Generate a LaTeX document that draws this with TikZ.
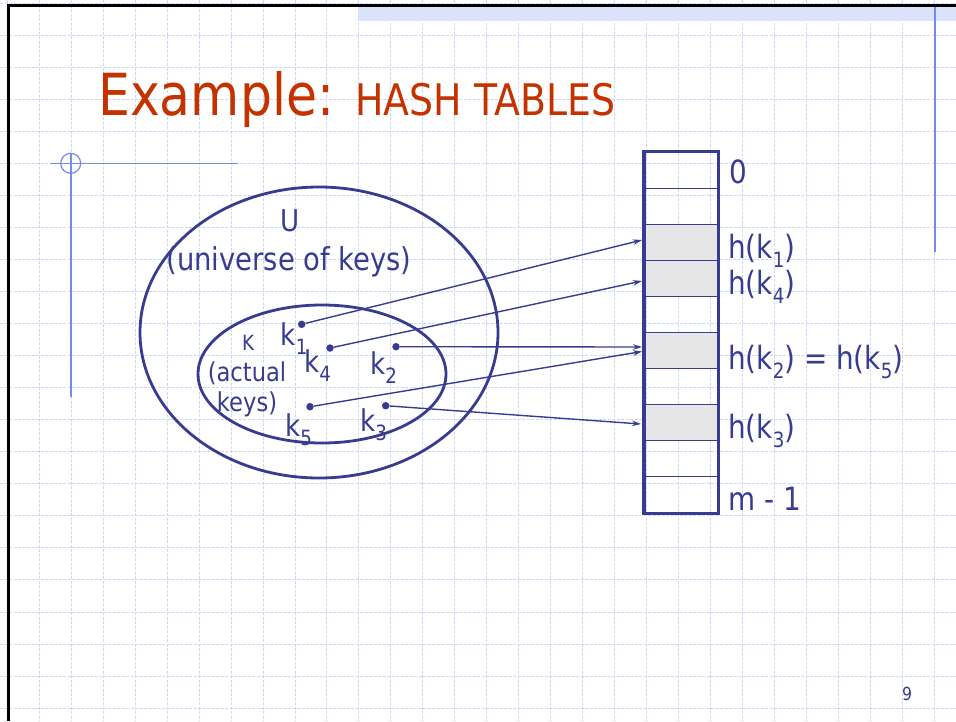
\documentclass[tikz,border=0pt]{standalone}
\usepackage{fontspec}
\setmainfont[FakeStretch=0.87]{DejaVu Sans}
\usetikzlibrary{arrows.meta,calc}
\definecolor{ink}{RGB}{55,60,145}
\definecolor{titlered}{RGB}{196,50,0}
\definecolor{gridblue}{RGB}{205,215,248}
\definecolor{decoblue}{RGB}{115,140,240}
\definecolor{bandblue}{RGB}{218,226,252}
\definecolor{cellgray}{RGB}{230,230,230}
\newcommand{\ks}[1]{\raisebox{-0.3em}{\fontsize{21}{21}\selectfont #1}}
\begin{document}
\begin{tikzpicture}[x=1pt,y=-1pt,
  gridline/.style={gridblue, line width=0.8pt, dash pattern=on 3pt off 1.5pt},
  txt/.style={anchor=base west, inner sep=0pt, text=ink},
  ctxt/.style={anchor=base, inner sep=0pt, text=ink},
  big/.style={font=\fontsize{30}{30}\selectfont},
  tab/.style={font=\fontsize{32}{32}\selectfont},
  dot/.style={circle, fill=ink, inner sep=0pt, minimum size=7.5pt},
  arr/.style={ink, line width=1.4pt, -{Stealth[length=9pt,width=5.5pt]}},
  cell/.style={draw=ink, line width=1.6pt, minimum width=73pt, minimum height=36pt, inner sep=0pt, anchor=north west},
  full/.style={cell, fill=cellgray}]
\useasboundingbox (0,0) rectangle (956,721);
\fill[white] (0,0) rectangle (956,721);
% background grid
\foreach \i in {0,...,29} \draw[gridline] ({7.35+31.95*\i},0) -- ++(0,721);
\foreach \j in {0,...,22} \draw[gridline] (0,{2.95+32.05*\j}) -- ++(956,0);
% top band and frame
\fill[bandblue] (358,7) rectangle (956,21);
\draw[black, line width=3.5pt] (8.5,721) -- (8.5,5.5) -- (956,5.5);
\draw[decoblue, line width=2.2pt] (935,7) -- (935,252);
\draw[decoblue, line width=1.2pt] (50,163.3) -- (238,163.3);
\draw[decoblue, line width=1.2pt] (70.7,163.3) circle [radius=10pt];
\draw[decoblue, line width=2.2pt] (70.7,153) -- (70.7,397);
% title
\node[anchor=base west, inner sep=0pt, text=titlered, font=\fontsize{58}{58}\selectfont] (title) at (98,115) {Example:};
\node[anchor=base west, inner sep=0pt, text=titlered, font=\fontsize{43.5}{43.5}\selectfont] (subtitle) at (355,115) {HASH TABLES};
% ellipses
\draw[ink, line width=2.8pt] (319,332.5) ellipse [x radius=179pt, y radius=145.5pt];
\draw[ink, line width=2.8pt] (322,374) ellipse [x radius=124pt, y radius=69pt];
\node[ctxt, big] (U) at (290,231.5) {U};
\node[ctxt, font=\fontsize{31.5}{31.5}\selectfont] (univ) at (289,270) {(universe of keys)};
\node[ctxt, font=\fontsize{21}{21}\selectfont] (K) at (248,350) {K};
\node[ctxt, font=\fontsize{26}{26}\selectfont] (actual) at (247,381.5) {(actual};
\node[ctxt, font=\fontsize{26}{26}\selectfont] (keys) at (247,411.5) {keys)};
% keys
\node[dot] (k1) at (301.7,324.3) {};
\node[dot] (k4) at (330,348) {};
\node[dot] (k2) at (396,346.7) {};
\node[dot] (k5) at (310,406.7) {};
\node[dot] (k3) at (385.7,405.7) {};
\node[txt, big] (lk1) at (280.5,345) {k\ks{1}};
\node[txt, big] (lk4) at (304,372.5) {k\ks{4}};
\node[txt, big] (lk2) at (370,374) {k\ks{2}};
\node[txt, big] (lk5) at (285,436.5) {k\ks{5}};
\node[txt, big] (lk3) at (360,431.5) {k\ks{3}};
% table
\node[cell] (c0) at (644,151.7) {};
\node[cell] (c1) at (644,187.7) {};
\node[full] (c2) at (644,223.7) {};
\node[full] (c3) at (644,259.7) {};
\node[cell] (c4) at (644,295.7) {};
\node[full] (c5) at (644,331.7) {};
\node[cell] (c6) at (644,367.7) {};
\node[full] (c7) at (644,403.7) {};
\node[cell] (c8) at (644,439.7) {};
\node[cell] (c9) at (644,475.7) {};
\draw[ink, line width=3.5pt] (c0.north west) rectangle (c9.south east);
% table labels
\node[txt, tab] (l0) at (729,183.3) {0};
\node[txt, tab] (lh1) at (728,258) {h(k\ks{1})};
\node[txt, tab] (lh4) at (728,294) {h(k\ks{4})};
\node[txt, tab] (lh25) at (728,369) {h(k\ks{2}) = h(k\ks{5})};
\node[txt, tab] (lh3) at (728,438) {h(k\ks{3})};
\node[txt, tab] (lm) at (728,510) {m - 1};
% arrow targets
\coordinate (t1) at (642,240);
\coordinate (t4) at (642,281);
\coordinate (t2) at (642,347);
\coordinate (t5) at (642,351.5);
\coordinate (t3) at (641,424);
\draw[arr] (k1) -- (t1);
\draw[arr] (k4) -- (t4);
\draw[arr] (k2) -- (t2);
\draw[arr] (k5) -- (t5);
\draw[arr] (k3) -- (t3);
% page number
\node[txt, font=\fontsize{18}{18}\selectfont] (page) at (902,700.5) {9};
\end{tikzpicture}
\end{document}
